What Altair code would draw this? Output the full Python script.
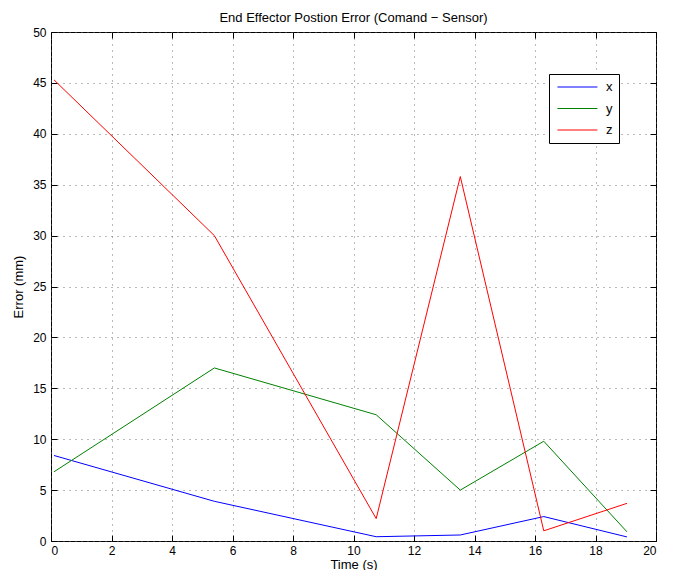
import altair as alt
import pandas as pd

times = [0.1, 5.4, 10.75, 13.53, 16.29, 19.04]
err_x = [8.4, 3.9, 0.42, 0.59, 2.4, 0.4]
err_y = [6.8, 17.0, 12.4, 5.0, 9.8, 0.9]
err_z = [45.3, 30.0, 2.2, 35.8, 1.0, 3.7]
series = ["x", "y", "z"]
colors = ["#0000ff", "#008000", "#ff0000"]
x_ticks = list(range(0, 21, 2))
y_ticks = list(range(0, 51, 5))

rows = []
for name, vals in zip(series, [err_x, err_y, err_z]):
    for t, v in zip(times, vals):
        rows.append({"Time": t, "Error": v, "series": name})
df = pd.DataFrame(rows)

FONT = "Liberation Sans"
xs = alt.Scale(domain=[0, 20], nice=False, zero=False)
ys = alt.Scale(domain=[0, 50], nice=False, zero=False)

lines = alt.Chart(df).mark_line(strokeWidth=1).encode(
    x=alt.X("Time:Q", scale=xs, title="Time (s)",
            axis=alt.Axis(orient="bottom", values=x_ticks, ticks=False, domain=False,
                          grid=True, gridColor="#666", gridDash=[1, 5], gridOpacity=0.9,
                          labelFont=FONT, labelFontSize=12, labelColor="black", labelPadding=4,
                          titleFont=FONT, titleFontSize=13, titleFontWeight="normal",
                          titleColor="black", titlePadding=2, format="d")),
    y=alt.Y("Error:Q", scale=ys, title="Error (mm)",
            axis=alt.Axis(orient="left", values=y_ticks, ticks=False, domain=False,
                          grid=True, gridColor="#666", gridDash=[1, 5], gridOpacity=0.9,
                          labelFont=FONT, labelFontSize=12, labelColor="black", labelPadding=5,
                          titleFont=FONT, titleFontSize=13, titleFontWeight="normal",
                          titleColor="black", titlePadding=7, format="d")),
    color=alt.Color("series:N", scale=alt.Scale(domain=series, range=colors),
                    legend=alt.Legend(title=None, orient="none", legendX=498, legendY=42,
                                      fillColor="white", strokeColor="black", padding=6,
                                      symbolType="M-0.7,0H5.45", symbolSize=169,
                                      symbolStrokeWidth=1,
                                      labelFont=FONT, labelFontSize=13, labelColor="black",
                                      rowPadding=7.5, labelOffset=37)),
)

def tick_layer(xorient, yorient):
    return alt.Chart(df).mark_point(opacity=0).encode(
        x=alt.X("Time:Q", scale=xs, title=None,
                axis=alt.Axis(orient=xorient, values=x_ticks, labels=False, grid=False,
                              domain=False, ticks=True, tickSize=6, offset=-6,
                              tickColor="black", tickWidth=1)),
        y=alt.Y("Error:Q", scale=ys, title=None,
                axis=alt.Axis(orient=yorient, values=y_ticks, labels=False, grid=False,
                              domain=False, ticks=True, tickSize=6, offset=-6,
                              tickColor="black", tickWidth=1)),
    )

chart = alt.layer(lines, tick_layer("bottom", "left"), tick_layer("top", "right")).resolve_axis(
    x="independent", y="independent"
).properties(
    width=605, height=509,
    title=alt.TitleParams("End Effector Postion Error (Comand \u2212 Sensor)", font=FONT,
                          fontSize=13, fontWeight="normal", color="black", offset=1),
    autosize=alt.AutoSizeParams(type="none"),
    padding={"left": 43, "top": 24, "right": 10, "bottom": 29},
).configure_view(stroke="black", strokeWidth=1)

chart.save("out.html", embed_options={"renderer": "svg", "actions": False})
